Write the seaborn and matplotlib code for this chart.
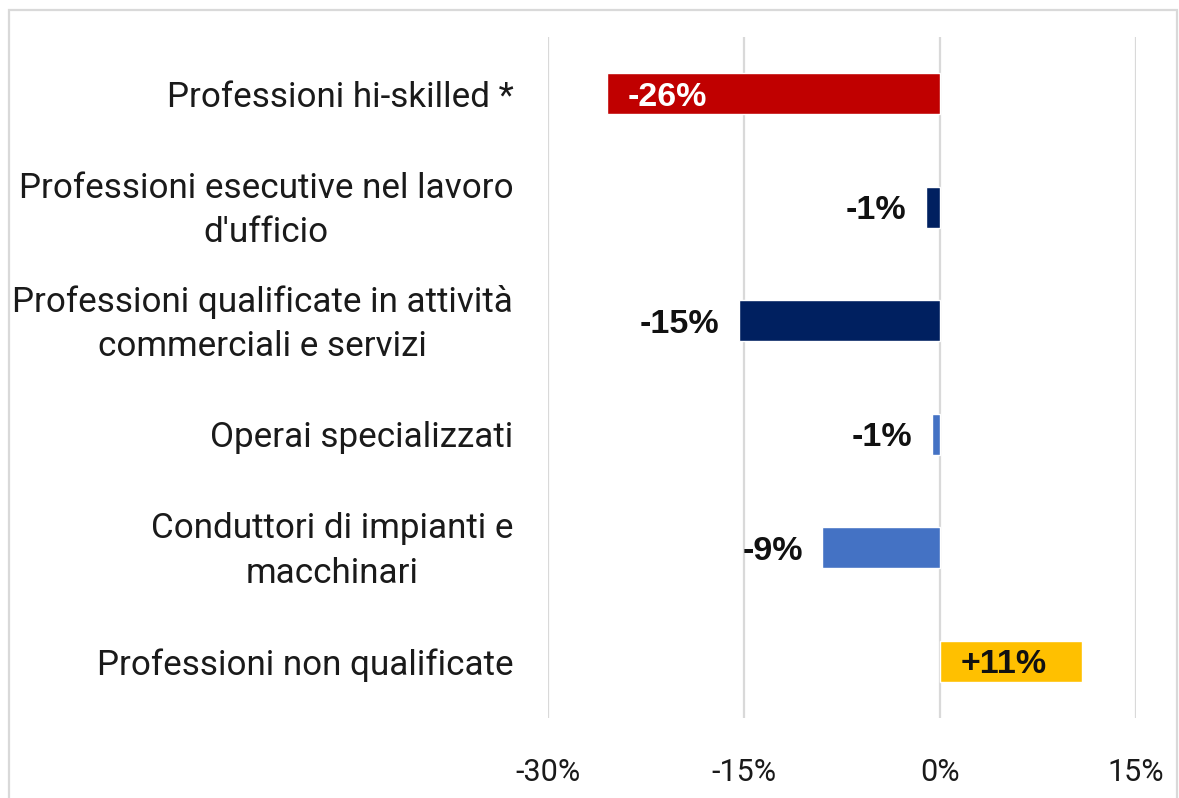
import matplotlib
matplotlib.use("Agg")
import matplotlib.pyplot as plt
import matplotlib.transforms as mtransforms
import seaborn as sns
import pandas as pd
from matplotlib.patches import Rectangle

# categories (top to bottom) and % change
categories = [
    "Professioni hi-skilled *",
    "Professioni esecutive nel lavoro\nd'ufficio",
    "Professioni qualificate in attività\ncommerciali e servizi",
    "Operai specializzati",
    "Conduttori di impianti e\nmacchinari",
    "Professioni non qualificate",
]
values = [-25.5, -1.1, -15.4, -0.6, -9.0, 10.9]
value_labels = ["-26%", "-1%", "-15%", "-1%", "-9%", "+11%"]
bar_colors = ["#C00000", "#002060", "#002060", "#4472C4", "#4472C4", "#FFC000"]
tick_values = [-30, -15, 0, 15]
tick_labels = ["-30%", "-15%", "0%", "15%"]

df = pd.DataFrame({"categoria": categories, "variazione": values})

sns.set_theme(style="white")
plt.rcParams["font.family"] = ["Roboto", "DejaVu Sans"]

fig = plt.figure(figsize=(11.79, 7.98), dpi=100)
ax = fig.add_axes([548 / 1179, 1 - 718 / 798, (1136 - 548) / 1179, (718 - 37) / 798])

sns.barplot(
    data=df, x="variazione", y="categoria", hue="categoria",
    palette=bar_colors, legend=False, width=0.36, orient="h",
    saturation=1, ax=ax,
)

ax.set_xlim(-30, 15)
ax.set_xticks(tick_values)
ax.set_xticklabels(tick_labels, fontsize=22)
ax.tick_params(axis="x", length=0, pad=29, colors="#1a1a1a")
ax.tick_params(axis="y", length=0, pad=25)
shift_up = mtransforms.ScaledTranslation(0, 6 / 100, fig.dpi_scale_trans)
for lbl in ax.get_yticklabels():
    lbl.set_fontsize(25.2)
    lbl.set_multialignment("center")
    lbl.set_linespacing(1.45)
    lbl.set_color("#1a1a1a")
    if "\n" in lbl.get_text():
        lbl.set_transform(lbl.get_transform() + shift_up)
ax.set_xlabel("")
ax.set_ylabel("")
ax.grid(axis="x", color="#d9d9d9", linewidth=1.6)
ax.set_axisbelow(True)
for s in ax.spines.values():
    s.set_visible(False)

# value labels
for i, (v, txt) in enumerate(zip(values, value_labels)):
    if i == 0:
        ax.text(v + 1.6, i, txt, ha="left", va="center_baseline", color="white",
                fontsize=24.5, fontweight="bold", family="Liberation Sans")
    elif i == len(values) - 1:
        ax.text(1.6, i, txt, ha="left", va="center_baseline", color="#111111",
                fontsize=24.5, fontweight="bold", family="Liberation Sans")
    else:
        ax.text(v - 1.5, i, txt, ha="right", va="center_baseline", color="#111111",
                fontsize=24.5, fontweight="bold", family="Liberation Sans")

# light frame around the chart area
fig.patches.append(Rectangle((9 / 1179, -0.05), (1177 - 9) / 1179, 1.05 - 10 / 798,
                             transform=fig.transFigure, fill=False,
                             edgecolor="#d9d9d9", linewidth=1.6))

fig.savefig("out.png", dpi=100)
